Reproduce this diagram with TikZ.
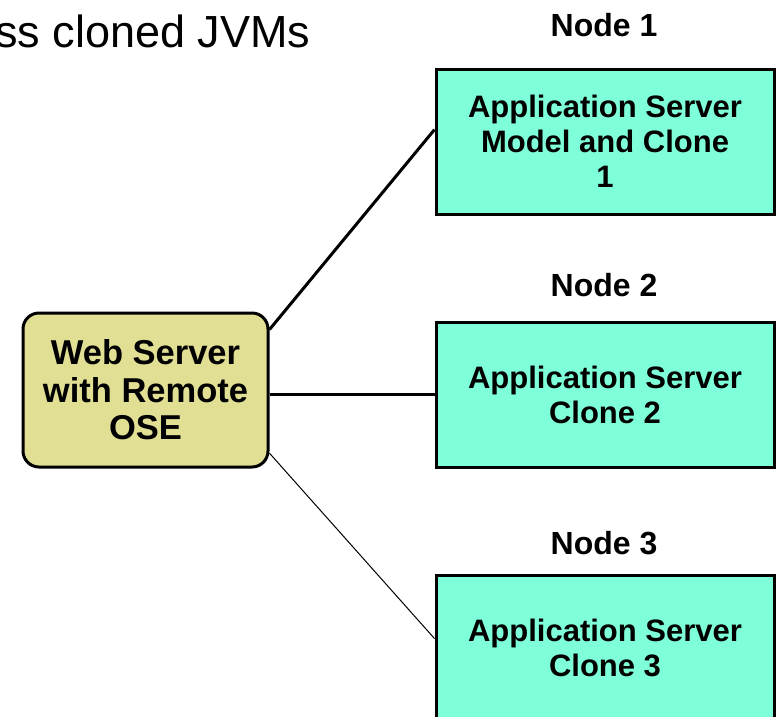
\documentclass[tikz,border=0pt]{standalone}
\usepackage{fontspec}
\setmainfont{Liberation Sans}
\usepackage{xcolor}
\usetikzlibrary{positioning}
\definecolor{webfill}{RGB}{224,223,148}
\definecolor{appfill}{RGB}{127,255,217}
\tikzset{
	webbox/.style={draw,line width=3pt,rounded corners=16pt,fill=webfill,
		minimum width=245pt,minimum height=154pt,align=center,
		font=\bfseries\fontsize{34.5}{37.5}\selectfont},
	appbox/.style={draw,line width=3pt,fill=appfill,
		minimum width=338pt,minimum height=145pt,align=center,
		font=\bfseries\fontsize{31}{35}\selectfont},
	nodelabel/.style={font=\bfseries\fontsize{32}{36}\selectfont}
}

\begin{document}
\begin{tikzpicture}[x=1pt,y=-1pt]
		\useasboundingbox (0,0) rectangle (778,716);
		\node[anchor=base east,font=\fontsize{45}{48}\selectfont] (title) at (314,47) {ss cloned JVMs};
		%
		\node[webbox] (web) at (145.5,390) {Web Server\\with Remote\\OSE};
		\node[appbox] (app1) at (605,141.5) {Application Server\\Model and Clone\\1};
		\node[appbox] (app2) at (605,394.5) {Application Server\\Clone 2};
		\node[appbox] (app3) at (605,647.5) {Application Server\\Clone 3};
		%
		\node[nodelabel] (n1) at (604,25) {Node 1};
		\node[nodelabel] (n2) at (604,285) {Node 2};
		\node[nodelabel] (n3) at (604,543) {Node 3};
		%
		\draw[line width=3pt] (web.26) -- (app1.176);
		\draw[line width=3pt] (app2.west -| web.east) -- (app2.west);
		\draw[line width=1pt] (web.-27) -- (app3.177);
\end{tikzpicture}
\end{document}
